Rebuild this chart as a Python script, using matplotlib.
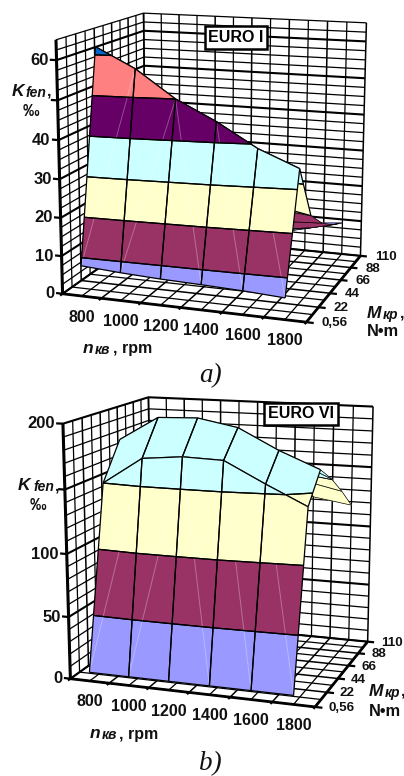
import numpy as np
import matplotlib
matplotlib.use('Agg')
import matplotlib.pyplot as plt
from mpl_toolkits.mplot3d import proj3d
from mpl_toolkits.mplot3d.art3d import Poly3DCollection, Line3DCollection

plt.rcParams['font.family'] = ['Liberation Sans', 'DejaVu Sans']

# data
n_labels = ['800', '1000', '1200', '1400', '1600', '1800']
m_labels = ['0,56', '22', '44', '66', '88', '110']

# rows: M = 0.56, 22, 44, 66, 88, 110 / columns: n = 800 ... 1800
euro1 = [[8.0, 7.3, 6.8, 6.5, 6.1, 5.5],
         [62.0, 57.0, 50.0, 45.0, 39.0, 34.8],
         [30.0, 28.0, 26.0, 24.0, 22.0, 20.0],
         [14.0, 14.0, 14.0, 14.0, 14.5, 15.0],
         [9.5, 9.5, 9.5, 9.5, 9.0, 11.5],
         [8.5, 8.5, 8.5, 8.5, 8.0, 9.0]]
euro6 = [[7.0, 7.0, 7.0, 7.0, 7.0, 7.0],
         [150.0, 171.0, 174.0, 173.0, 157.0, 142.0],
         [179.0, 198.0, 199.0, 193.0, 177.0, 164.0],
         [165.0, 180.0, 180.0, 175.0, 165.0, 151.0],
         [140.0, 150.0, 150.0, 148.0, 142.0, 135.0],
         [120.0, 125.0, 125.0, 124.0, 122.0, 117.0]]

levels1 = [0, 10, 20, 30, 40, 50, 60, 70]
levels6 = [0, 50, 100, 150, 200]
colors1 = ['#9999FF', '#993366', '#FFFFCC', '#CCFFFF', '#660066', '#FF8080', '#0066CC']
colors6 = ['#9999FF', '#993366', '#FFFFCC', '#CCFFFF']

W, H = 404, 776
fig = plt.figure(figsize=(W / 100, H / 100), dpi=100)


def clip(poly, level, keep_above):
    out = []
    for k in range(len(poly)):
        a, b = poly[k], poly[(k + 1) % len(poly)]
        ina = a[2] >= level if keep_above else a[2] <= level
        inb = b[2] >= level if keep_above else b[2] <= level
        if ina:
            out.append(a)
        if ina != inb:
            t = (level - a[2]) / (b[2] - a[2])
            out.append((a[0] + t * (b[0] - a[0]), a[1] + t * (b[1] - a[1]), level))
    return out


def frame(ax, zmax, zstep, zmajor):
    kw = dict(color='black', zorder=1, solid_capstyle='butt')
    zs = np.arange(0, zmax + 0.01, zstep)
    for z in zs:
        lw = 1.5 if abs(z / zmajor - round(z / zmajor)) < 1e-6 else 0.9
        ax.plot([0, 0, 6], [0, 5, 5], [z, z, z], lw=lw, **kw)
    for x in np.arange(0, 6.01, 0.5):
        lw = 1.1 if x == int(x) else 0.9
        ax.plot([x, x], [5, 5], [0, zmax], lw=lw, **kw)
        ax.plot([x, x], [0, 5], [0, 0], lw=lw, **kw)
    for y in np.arange(0, 5.01, 0.5):
        lw = 1.1 if y == int(y) else 0.9
        ax.plot([0, 0], [y, y], [0, zmax], lw=lw, **kw)
        ax.plot([0, 6], [y, y], [0, 0], lw=lw, **kw)
    # axes and ticks
    ax.plot([0, 0], [0, 0], [0, zmax], lw=2.2, **kw)
    ax.plot([0, 6], [0, 0], [0, 0], lw=2.0, **kw)
    ax.plot([6, 6], [0, 5], [0, 0], lw=2.0, **kw)
    for z in np.arange(0, zmax + 0.01, zmajor):
        ax.plot([0, -0.17], [0, 0], [z, z], lw=1.6, **kw)
    for x in range(7):
        ax.plot([x, x], [0, -0.13], [0, 0], lw=1.6, **kw)
    for y in range(6):
        ax.plot([6, 6.17], [y, y], [0, 0], lw=1.6, **kw)


def surface(ax, values, levels, colors):
    values = np.array(values)
    for j in range(values.shape[0] - 2, -1, -1):
        faces, fcols, lines, seams = [], [], [], []
        for i in range(values.shape[1] - 1):
            quad = [(i + 0.5, j, values[j, i]), (i + 1.5, j, values[j, i + 1]),
                    (i + 1.5, j + 1, values[j + 1, i + 1]), (i + 0.5, j + 1, values[j + 1, i])]
            for a, b in zip(quad, quad[1:] + quad[:1]):
                lines.append([a, b])
            # pale triangle seams on the front wall
            if j == 0:
                seams.append([quad[0], quad[2]] if i < 2 else [quad[1], quad[3]])
            for b in range(len(colors)):
                piece = clip(clip(quad, levels[b], True), levels[b + 1], False)
                if len(piece) < 3:
                    continue
                faces.append(piece)
                fcols.append(colors[b])
                for p, q in zip(piece, piece[1:] + piece[:1]):
                    if p[2] == q[2] and p[2] in levels:
                        lines.append([p, q])
        z0 = 10 + 3 * (values.shape[0] - j)
        pc = Poly3DCollection(faces, facecolors=fcols, edgecolors=fcols, linewidths=0.3)
        ax.add_collection3d(pc)
        pc.set_zorder(z0)
        if seams:
            sc = Line3DCollection(seams, colors='white', linewidths=0.7, alpha=0.3)
            ax.add_collection3d(sc)
            sc.set_zorder(z0 + 1)
        lc = Line3DCollection(lines, colors='black', linewidths=0.9 if j < 2 else 0.5)
        ax.add_collection3d(lc)
        lc.set_zorder(z0 + 2)


def tick_text(ax, x, y, z, s, dx, dy, size, ha='center'):
    xp, yp, _ = proj3d.proj_transform(x, y, z, ax.get_proj())
    ax.annotate(s, xy=(xp, yp), xytext=(dx, dy), textcoords='offset pixels', fontsize=size,
                fontweight='bold', ha=ha, va='center', annotation_clip=False, color='#111111')


def panel(rect, elev, azim, roll, ay, az, focal, values, levels, colors, zmax, zstep, zmajor, zlabels, mdx):
    left, top, side = rect
    ax = fig.add_axes([left / W, 1 - (top + side) / H, side / W, side / H], projection='3d')
    ax.computed_zorder = False
    ax.set_xlim(0, 6)
    ax.set_ylim(0, 5)
    ax.set_zlim(0, zmax)
    ax.view_init(elev, azim, roll)
    ax.set_proj_type('persp', focal_length=focal)
    ax.set_box_aspect((1, ay, az))
    ax.set_axis_off()
    ax.patch.set_alpha(0)
    frame(ax, zmax, zstep, zmajor)
    surface(ax, values, levels, colors)
    for i, s in enumerate(n_labels):
        tick_text(ax, i + 0.5, 0, 0, s, 0, -21, 11.5)
    for j, s in enumerate(m_labels):
        tick_text(ax, 6, j, 0, s, mdx, -1, 9.6, ha='left')
    for z in zlabels:
        tick_text(ax, 0, 0, z, str(z), -8, 0, 12, ha='right')


def label(x, y, s, size, style='normal', weight='bold', family=None, ha='left'):
    kw = {} if family is None else {'family': family}
    fig.text(x / W, 1 - y / H, s, fontsize=size, style=style, fontweight=weight, ha=ha, va='center',
             color='#111111', **kw)


panel((12.7, -39.8, 400.3), 12.91, -71.06, -0.06, 0.885, 1.013, 0.626, euro1, levels1, colors1,
      65, 2.5, 10, [0, 10, 20, 30, 40, 60], 15)
panel((20.1, 345.5, 399.1), 13.06, -70.94, 0.11, 0.854, 1.014, 0.625, euro6, levels6, colors6,
      200, 10, 50, [0, 50, 100, 200], 13)

box = dict(boxstyle='square,pad=0.22', fc='white', ec='black', lw=1.8)
fig.text(236 / W, 1 - 37.5 / H, 'EURO I', fontsize=11.5, fontweight='bold', ha='center', va='center', bbox=box)
fig.text(301 / W, 1 - 414 / H, 'EURO VI', fontsize=11.5, fontweight='bold', ha='center', va='center', bbox=box)

# axis titles, upper chart
label(12, 92, 'K', 12.5, 'italic')
label(26, 93, 'fen', 10, 'italic')
label(47, 91, ',', 11.5)
label(31, 111, '‰', 12, ha='center')
label(367, 313, 'M', 12.5, 'italic')
label(383, 315, 'кр', 10, 'italic')
label(400, 313, ',', 11.5)
label(367, 332, 'N•m', 11.8)
label(83, 349, 'n', 12.5, 'italic')
label(95, 350, 'кв', 10, 'italic')
label(113, 349, ', rpm', 11.5)
# axis titles, lower chart
label(18, 486, 'K', 12.5, 'italic')
label(33, 487, 'fen', 10, 'italic')
label(55, 486, ',', 11.5)
label(38, 505, '‰', 12, ha='center')
label(369, 691, 'M', 12.5, 'italic')
label(385, 693, 'кр', 10, 'italic')
label(401, 691, ',', 11.5)
label(369, 711, 'N•m', 11.8)
label(90, 734, 'n', 12.5, 'italic')
label(102, 735, 'кв', 10, 'italic')
label(119, 734, ', rpm', 11.5)

label(210, 376, 'a)', 19.5, 'italic', 'normal', 'Liberation Serif', 'center')
label(210, 764, 'b)', 19.5, 'italic', 'normal', 'Liberation Serif', 'center')

fig.savefig('out.png', dpi=100)
